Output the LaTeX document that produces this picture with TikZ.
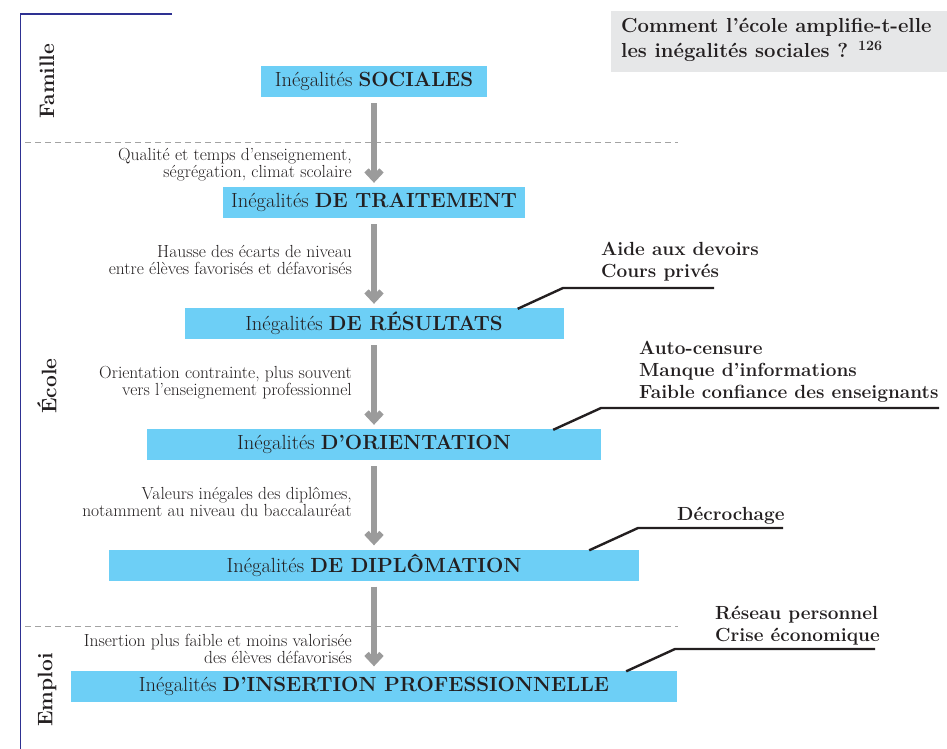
\documentclass[tikz,border=0pt]{standalone}
\usepackage{fontspec}
\usetikzlibrary{arrows.meta}
\definecolor{boxblue}{HTML}{6DCFF6}
\definecolor{arrowgray}{HTML}{9B9B9B}
\definecolor{dashgray}{HTML}{A3A3A3}
\definecolor{titlegray}{HTML}{E6E7E8}
\definecolor{ink}{HTML}{231F20}
\definecolor{frameblue}{HTML}{2E3192}
\tikzset{
  ibox/.style={fill=boxblue, minimum height=31pt, inner sep=0pt, text=ink, font=\fontsize{20.5}{24}\selectfont},
  garrow/.style={draw=arrowgray, line width=6pt, -{Straight Barb[length=8pt,width=15pt]}},
  lbl/.style={align=right, anchor=base east, inner sep=0pt, text=ink, font=\fontsize{17.5}{17}\selectfont},
  ctext/.style={align=left, anchor=base west, inner sep=0pt, text=ink, font=\fontsize{19}{22}\selectfont\bfseries},
  callout/.style={draw=ink, line width=2.4pt},
  sep/.style={draw=dashgray, line width=1pt, dash pattern=on 6pt off 4pt},
  side/.style={rotate=90, inner sep=0pt, text=ink, font=\fontsize{21}{24}\selectfont\bfseries},
  frameline/.style={draw=frameblue, line width=1.3pt}
}
\begin{document}
\begin{tikzpicture}[x=1pt,y=-1pt]
\useasboundingbox (0,0) rectangle (947,749);
% frame
\coordinate (f1) at (172,14);
\coordinate (f2) at (20.5,14);
\coordinate (f3) at (20.5,749);
\draw[frameline] (f1) -- (f2) -- (f3);
% title
\node[fill=titlegray, minimum width=336pt, minimum height=61pt, inner sep=0pt, anchor=north west] (tbg) at (611,11) {};
\node[anchor=base west, align=left, inner sep=0pt, text=ink, font=\fontsize{20.3}{25}\selectfont\bfseries] (title) at (621,58) {Comment l’école amplifie-t-elle\\les inégalités sociales ? \textsuperscript{126}};
% separators
\coordinate (d1a) at (25,142.5); \coordinate (d1b) at (678,142.5);
\coordinate (d2a) at (25,626.5); \coordinate (d2b) at (678,626.5);
\draw[sep] (d1a) -- (d1b);
\draw[sep] (d2a) -- (d2b);
% side labels
\node[side] (fam) at (47,81) {Famille};
\node[side] (eco) at (47,386) {École};
\node[side] (emp) at (47,690) {Emploi};
% boxes
\node[ibox, minimum width=226pt] (b1) at (374,81.5) {Inégalités \textbf{SOCIALES}};
\node[ibox, minimum width=302pt] (b2) at (374,202.5) {Inégalités \textbf{DE TRAITEMENT}};
\node[ibox, minimum width=379pt] (b3) at (374,323.5) {Inégalités \textbf{DE RÉSULTATS}};
\node[ibox, minimum width=454pt] (b4) at (374,444.5) {Inégalités \textbf{D’ORIENTATION}};
\node[ibox, minimum width=530pt] (b5) at (374,565) {Inégalités \textbf{DE DIPLÔMATION}};
\node[ibox, minimum width=606pt] (b6) at (374,686) {Inégalités \textbf{D’INSERTION PROFESSIONNELLE}};
% arrows
\draw[garrow] ([yshift=-6pt]b1.south) -- ([yshift=4pt]b2.north);
\draw[garrow] ([yshift=-6pt]b2.south) -- ([yshift=4pt]b3.north);
\draw[garrow] ([yshift=-6pt]b3.south) -- ([yshift=4pt]b4.north);
\draw[garrow] ([yshift=-6pt]b4.south) -- ([yshift=4pt]b5.north);
\draw[garrow] ([yshift=-6pt]b5.south) -- ([yshift=4pt]b6.north);
% left labels
\node[lbl] (l1) at (352,177.5) {Qualité et temps d’enseignement,\\ségrégation, climat scolaire};
\node[lbl] (l2) at (352,274.5) {Hausse des écarts de niveau\\entre élèves favorisés et défavorisés};
\node[lbl] (l3) at (352,395.5) {Orientation contrainte, plus souvent\\vers l’enseignement professionnel};
\node[lbl] (l4) at (352,516.5) {Valeurs inégales des diplômes,\\notamment au niveau du baccalauréat};
\node[lbl] (l5) at (352,663.5) {Insertion plus faible et moins valorisée\\des élèves défavorisés};
% callouts
\node[ctext] (c1) at (601,277) {Aide aux devoirs\\Cours privés};
\node[ctext] (c2) at (639,398) {Auto-censure\\Manque d’informations\\Faible confiance des enseignants};
\node[ctext] (c3) at (677,520) {Décrochage};
\node[ctext] (c4) at (715,641) {Réseau personnel\\Crise économique};
\coordinate (k1) at (563,288); \coordinate (e1) at (714,288);
\coordinate (k2) at (601,408); \coordinate (e2) at (939,408);
\coordinate (k3) at (638,528); \coordinate (e3) at (783,528);
\coordinate (k4) at (675,649); \coordinate (e4) at (875,649);
\draw[callout] ([xshift=-46pt,yshift=-1pt]b3.north east) -- (k1) -- (e1);
\draw[callout] ([xshift=-48pt,yshift=-1pt]b4.north east) -- (k2) -- (e2);
\draw[callout] ([xshift=-50pt,yshift=-1pt]b5.north east) -- (k3) -- (e3);
\draw[callout] ([xshift=-51pt,yshift=-1pt]b6.north east) -- (k4) -- (e4);
\end{tikzpicture}
\end{document}
